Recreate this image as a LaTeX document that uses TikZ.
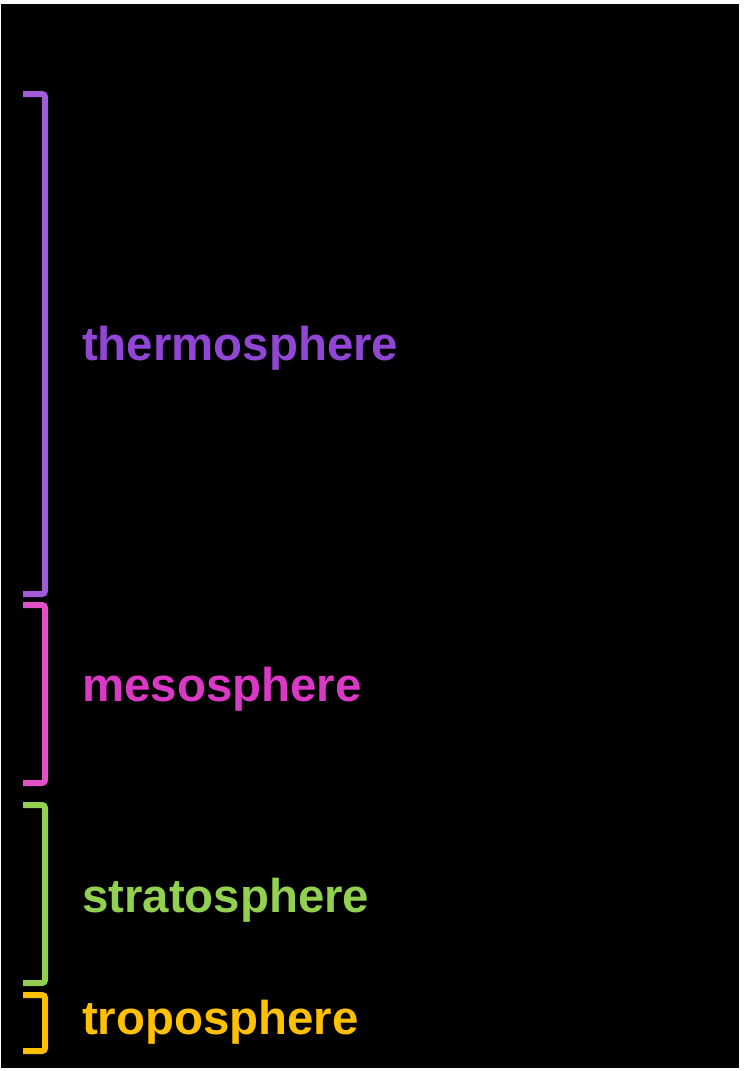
\documentclass[tikz,border=0pt]{standalone}
\usepackage{fontspec}
\setmainfont{Liberation Sans}
\definecolor{thermoC}{HTML}{9146D6}
\definecolor{thermoB}{HTML}{A25CDA}
\definecolor{mesoC}{HTML}{DB38C5}
\definecolor{mesoB}{HTML}{E250C9}
\definecolor{stratoC}{HTML}{92D050}
\definecolor{tropoC}{HTML}{FFC000}
\begin{document}
\begin{tikzpicture}[x=1pt,y=-1pt,
  brace/.style={line width=6pt,rounded corners=3pt,line cap=butt},
  layer/.style={anchor=base west,inner sep=0pt,font=\fontsize{47.4}{50}\selectfont\bfseries}]
\useasboundingbox[fill=white] (0,0) rectangle (746,1071);
\fill[black] (1,4) rectangle (739,1068);
% brackets spanning each layer
\draw[brace,thermoB] (23,94) -- (45,94) -- (45,594) -- (23,594);
\draw[brace,mesoB] (23,605) -- (45,605) -- (45,783) -- (23,783);
\draw[brace,stratoC] (23,805) -- (45,805) -- (45,983) -- (23,983);
\draw[brace,tropoC] (23,995) -- (45,995) -- (45,1051) -- (23,1051);
% layer names
\node[layer,text=thermoC] (thermo) at (82,360) {thermosphere};
\node[layer,text=mesoC] (meso) at (82,701) {mesosphere};
\node[layer,text=stratoC] (strato) at (82,912) {stratosphere};
\node[layer,text=tropoC] (tropo) at (82,1034) {troposphere};
\end{tikzpicture}
\end{document}
